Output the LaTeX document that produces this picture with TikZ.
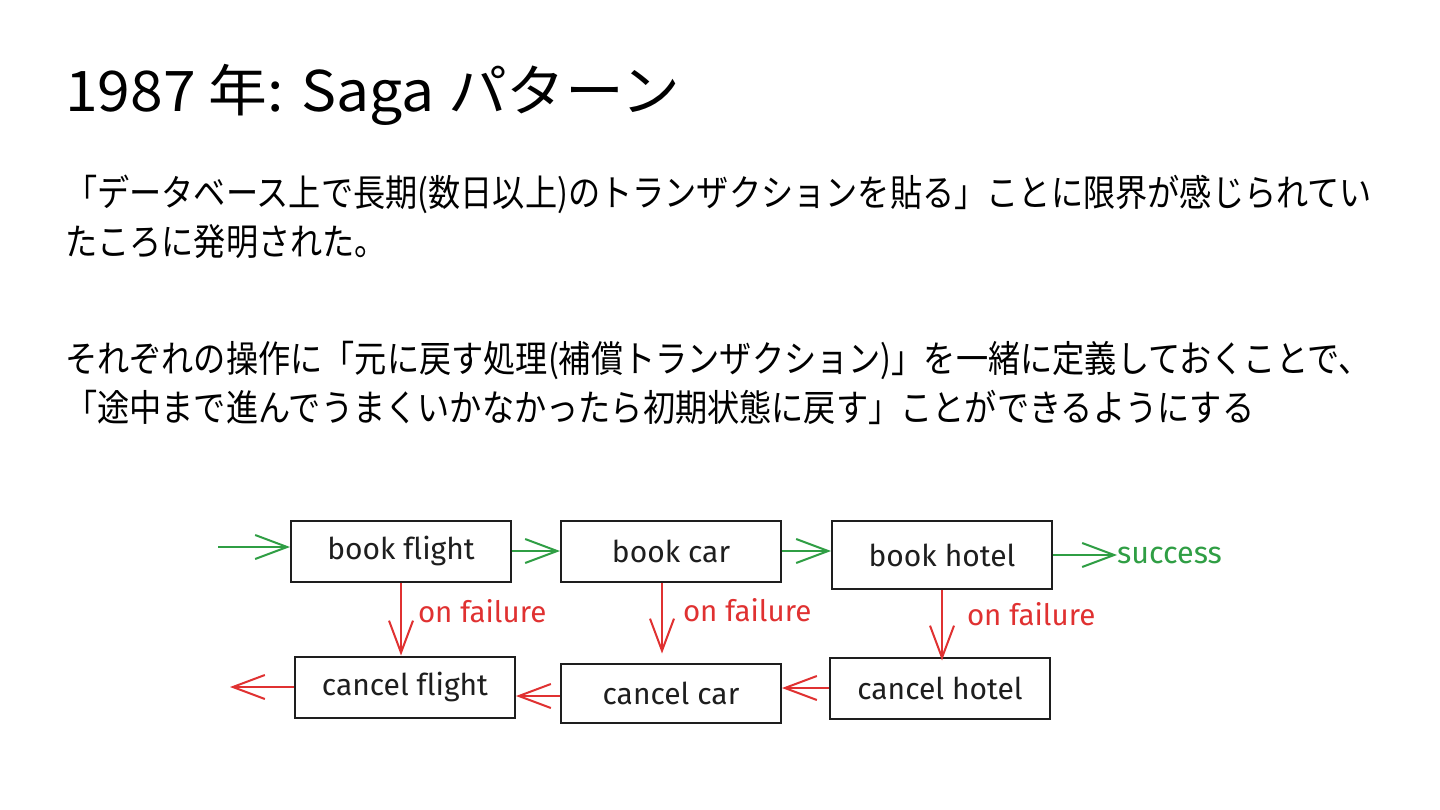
\documentclass[tikz,border=0pt]{standalone}
\usepackage{fontspec}
\usetikzlibrary{arrows.meta}
\newfontfamily\jpfont{Noto Sans CJK JP}[FakeStretch=1.05]
\newfontfamily\jpbody{Noto Sans CJK JP}[FakeStretch=0.87]
\newfontfamily\boxfont{Fira Sans}[RawFeature={-liga}]
\definecolor{okgreen}{HTML}{2F9E44}
\definecolor{failred}{HTML}{E03131}
\definecolor{ink}{HTML}{1E1E1E}
\begin{document}
\begin{tikzpicture}
    [
    x=1pt, y=-1pt,
    line/.style={inner sep=0pt, anchor=base west, font=\jpbody\fontsize{37}{40}\selectfont},
    stage/.style={rectangle, draw=ink, line width=2pt, text=ink, minimum width=220pt, minimum height=61pt, font=\boxfont\fontsize{30}{32}\selectfont},
    okarrow/.style={draw=okgreen, line width=2pt, -{Straight Barb[length=32pt, width=24pt, line width=2pt]}},
    failarrow/.style={draw=failred, line width=2pt, -{Straight Barb[length=32pt, width=24pt, line width=2pt]}},
    faillabel/.style={text=failred, font=\boxfont\fontsize{29.5}{31}\selectfont, inner sep=0pt}
    ]
    \useasboundingbox [fill=white] (0,0) rectangle (1440,810);
    % title and text
    \node (title) at (65,112) [inner sep=0pt, anchor=base west, font=\jpfont\fontsize{56}{60}\selectfont] {1987 年: Saga パターン};
    \node (l1) at (65,207) [line] {「データベース上で長期(数日以上)のトランザクションを貼る」ことに限界が感じられてい};
    \node (l2) at (65,256) [line] {たころに発明された。};
    \node (l3) at (65,372) [line] {それぞれの操作に「元に戻す処理(補償トランザクション)」を一緒に定義しておくことで、};
    \node (l4) at (65,421) [line] {「途中まで進んでうまくいかなかったら初期状態に戻す」ことができるようにする};
    % saga steps
    \node (bf) at (401,551) [stage] {book f\kern0pt light};
    \node (bc) at (671,551) [stage] {book car};
    \node (bh) at (942,555) [stage, minimum height=68pt] {book hotel};
    \node (cf) at (405,687) [stage] {cancel f\kern0pt light};
    \node (cc) at (671,693) [stage, minimum height=59pt] {cancel car};
    \node (ch) at (940,688) [stage] {cancel hotel};
    \node (ok) at (1117,555) [anchor=west, inner sep=0pt, text=okgreen, font=\boxfont\fontsize{30.5}{32}\selectfont] {success};
    \coordinate (in) at (218,547);
    \coordinate (out) at (230,687);
    \draw [okarrow] (in) -- (in -| bf.west);
    \draw [okarrow] (bf.east) -- (bf.east -| bc.west);
    \draw [okarrow] (bc.east) -- (bc.east -| bh.west);
    \draw [okarrow] (bh.east) -- (ok.west);
    \draw [failarrow] (bf.south) -- (bf.south |- cf.north) node [midway, right=16pt, yshift=8pt, faillabel] {on failure};
    \draw [failarrow] ([xshift=-9pt]bc.south) -- ([xshift=-9pt, yshift=9pt]bc.south |- cc.north) node [midway, right=20pt, yshift=8pt, faillabel] {on failure};
    \draw [failarrow] (bh.south) -- ([yshift=-4pt]bh.south |- ch.north) node [midway, right=24pt, yshift=11pt, faillabel] {on failure};
    \draw [failarrow] (ch.west) -- (ch.west -| cc.east);
    \draw [failarrow] ([yshift=-3pt]cc.west) -- ([yshift=-3pt]cc.west -| cf.east);
    \draw [failarrow] (cf.west) -- (out);
  \end{tikzpicture}
\end{document}
